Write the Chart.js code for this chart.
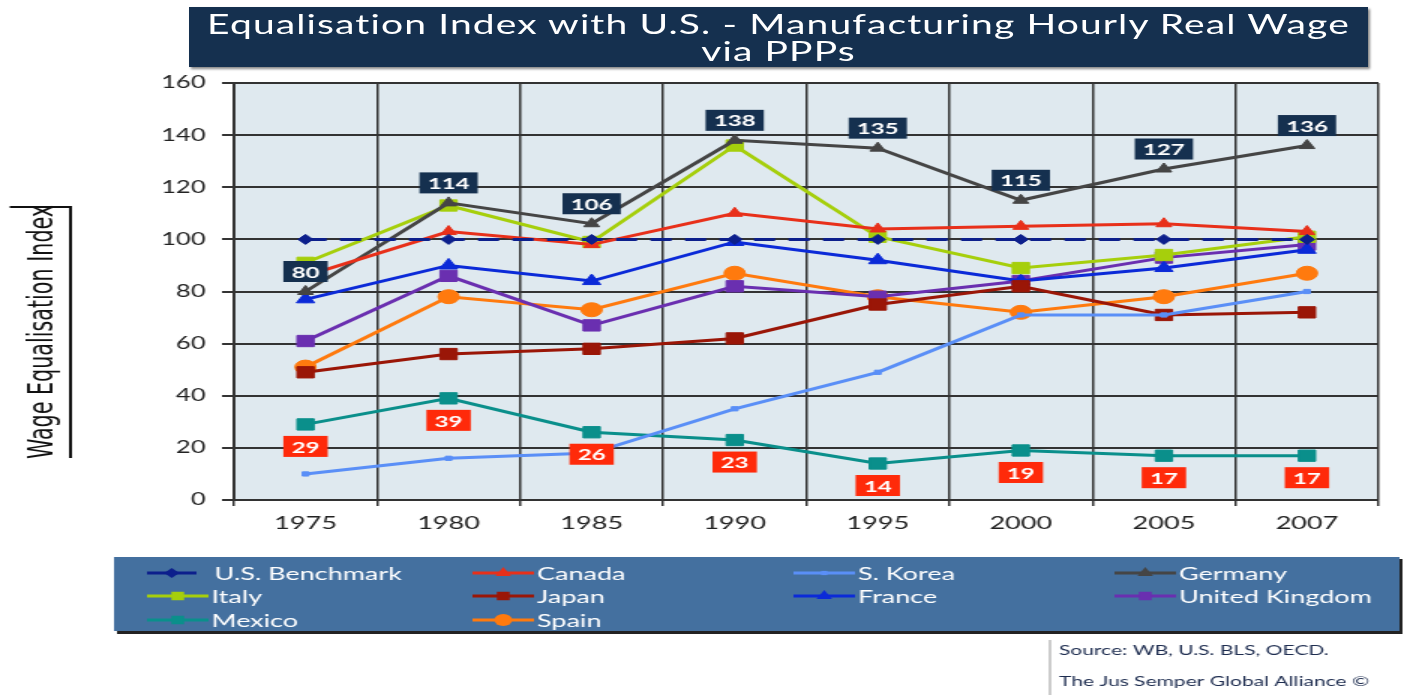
<!DOCTYPE html>
<html>
<head>
<meta charset="utf-8">
<script src="https://cdn.jsdelivr.net/npm/chart.js@4.4.0/dist/chart.umd.min.js"></script>
<style>
  body { margin: 0; background: #fff; overflow: hidden; }
  #wrap { position: absolute; left: 0; top: 0; width: 937px; height: 695px; transform: scaleX(1.5); transform-origin: 0 0; }
  #title { position: absolute; left: 126px; top: 7px; width: 786px; height: 60px; background: #15304f;
    color: #fff; font-family: Lato, sans-serif; font-size: 26px; line-height: 27px; text-align: center;
    letter-spacing: 0.75px; box-shadow: 1px 2px 2px #888; padding-top: 4px; box-sizing: border-box; }
</style>
</head>
<body>
<div id="wrap">
  <canvas id="wageChart" width="937" height="695"></canvas>
  <div id="title">Equalisation Index with U.S. - Manufacturing Hourly Real Wage<br>via PPPs</div>
</div>
<script>
// data
var years = ["1975", "1980", "1985", "1990", "1995", "2000", "2005", "2007"];
var usBenchmark = [100, 100, 100, 100, 100, 100, 100, 100];
var canada      = [86, 103, 98, 110, 104, 105, 106, 103];
var sKorea      = [10, 16, 18, 35, 49, 71, 71, 80];
var germany     = [80, 114, 106, 138, 135, 115, 127, 136];
var italy       = [91, 113, 99, 136, 101, 89, 94, 101];
var japan       = [49, 56, 58, 62, 75, 82, 71, 72];
var france      = [77, 90, 84, 99, 92, 84, 89, 96];
var uk          = [61, 86, 67, 82, 78, 84, 93, 98];
var mexico      = [29, 39, 26, 23, 14, 19, 17, 17];
var spain       = [51, 78, 73, 87, 78, 72, 78, 87];
var yTicks      = [0, 20, 40, 60, 80, 100, 120, 140, 160];

var FONT = "Lato, 'Open Sans', sans-serif";

function serie(label, data, color, style, radius, dash){
  return {
    label: label,
    data: data,
    borderColor: color,
    backgroundColor: color,
    pointBackgroundColor: color,
    pointBorderColor: color,
    pointStyle: style,
    pointRadius: radius,
    pointBorderWidth: 1,
    borderWidth: 3,
    borderDash: dash || [],
    tension: 0
  };
}

var datasets = [
  serie("U.S. Benchmark", usBenchmark, "#0c1f8c", "rectRot", 5, [14, 9]),
  serie("Canada", canada, "#e8301a", "triangle", 6),
  serie("S. Korea", sKorea, "#5a8ff7", "rect", 3),
  serie("Germany", germany, "#454545", "triangle", 6),
  serie("Italy", italy, "#a6cf0c", "rect", 8),
  serie("Japan", japan, "#9a1607", "rect", 8),
  serie("France", france, "#0b2ad8", "triangle", 7),
  serie("United Kingdom", uk, "#6a2fb0", "rect", 8),
  serie("Mexico", mexico, "#0a8f8b", "rect", 8),
  serie("Spain", spain, "#ff7a0e", "circle", 7)
];

// background, y title, value boxes, legend and source note
var decorations = {
  id: "decorations",
  beforeDraw: function(chart){
    var ctx = chart.ctx, a = chart.chartArea;
    ctx.save();
    ctx.fillStyle = "#fff";
    ctx.fillRect(0, 0, chart.width, chart.height);
    ctx.fillStyle = "#dfe9ef";
    ctx.fillRect(a.left, a.top, a.right - a.left, a.bottom - a.top);
    ctx.restore();
  },
  afterDatasetsDraw: function(chart){
    var ctx = chart.ctx;
    function box(idx, dy, fill){
      var meta = chart.getDatasetMeta(idx);
      var vals = chart.data.datasets[idx].data;
      ctx.font = "bold 16px " + FONT;
      ctx.textAlign = "center";
      ctx.textBaseline = "middle";
      meta.data.forEach(function(p, i){
        var txt = String(vals[i]);
        var w = ctx.measureText(txt).width + 11;
        var cy = p.y + dy;
        ctx.fillStyle = fill;
        ctx.fillRect(p.x - w / 2, cy - 10.5, w, 21);
        ctx.fillStyle = "#fff";
        ctx.fillText(txt, p.x, cy + 1);
      });
    }
    ctx.save();
    box(3, -20, "#15304f");
    box(8, 22, "#ff2a0a");
    ctx.restore();
  },
  afterDraw: function(chart){
    var ctx = chart.ctx;
    ctx.save();

    // y axis title with bracket
    ctx.strokeStyle = "#111";
    ctx.lineWidth = 2;
    ctx.beginPath();
    ctx.moveTo(6.5, 207);
    ctx.lineTo(47, 207);
    ctx.lineTo(47, 458);
    ctx.stroke();
    ctx.translate(29, 332);
    ctx.rotate(-Math.PI / 2);
    ctx.fillStyle = "#111";
    ctx.font = "23px 'Liberation Sans Narrow', 'DejaVu Sans Condensed', sans-serif";
    ctx.textAlign = "center";
    ctx.textBaseline = "middle";
    ctx.fillText("Wage Equalisation Index", 0, 0);
    ctx.setTransform(1, 0, 0, 1, 0, 0);

    // legend
    ctx.fillStyle = "#222";
    ctx.fillRect(78, 559, 857, 75);
    ctx.fillStyle = "#44709f";
    ctx.fillRect(76, 557, 857, 74);
    var colX = [98, 315, 529, 743];
    var rowY = [573, 596, 620];
    ctx.font = "18px " + FONT;
    ctx.textBaseline = "middle";
    ctx.textAlign = "left";
    chart.data.datasets.forEach(function(ds, i){
      var x = colX[i % 4], y = rowY[Math.floor(i / 4)];
      var len = i === 0 ? 33 : 41;
      ctx.strokeStyle = ds.borderColor;
      ctx.lineWidth = 3;
      ctx.setLineDash([]);
      ctx.beginPath();
      ctx.moveTo(x, y);
      ctx.lineTo(x + len, y);
      ctx.stroke();
      ctx.fillStyle = ds.pointBackgroundColor;
      Chart.helpers.drawPoint(ctx, {pointStyle: ds.pointStyle, radius: Math.min(ds.pointRadius, 6), rotation: 0, borderWidth: 0}, x + len / 2, y);
      ctx.fillStyle = "#fff";
      ctx.fillText(ds.label, x + (i === 0 ? 45 : 43), y + 1);
    });

    // source note
    ctx.fillStyle = "#fff";
    ctx.fillRect(700, 640, 237, 55);
    ctx.strokeStyle = "#bbb";
    ctx.lineWidth = 1.5;
    ctx.beginPath();
    ctx.moveTo(700, 640);
    ctx.lineTo(700, 695);
    ctx.stroke();
    ctx.fillStyle = "#1e2d50";
    ctx.font = "14px " + FONT;
    ctx.fillText("Source: WB, U.S. BLS, OECD.", 706, 650);
    ctx.fillText("The Jus Semper Global Alliance ©", 706, 681);
    ctx.restore();
  }
};

function drawChart(){
  var ctx = document.getElementById("wageChart").getContext("2d");
  new Chart(ctx, {
    type: "line",
    data: { labels: years, datasets: datasets },
    plugins: [decorations],
    options: {
      responsive: false,
      animation: false,
      devicePixelRatio: 1,
      layout: { padding: { left: 0, right: 18, top: 83, bottom: 150 } },
      plugins: { legend: { display: false }, tooltip: { enabled: false } },
      scales: {
        x: {
          offset: true,
          grid: { offset: true, color: "#333", lineWidth: 1.5, tickLength: 6 },
          border: { color: "#333", width: 1.5 },
          ticks: { color: "#222", font: { family: FONT, size: 18 }, padding: 6 },
          afterFit: function(s){ s.height = 45; }
        },
        y: {
          min: 0,
          max: 160,
          afterBuildTicks: function(s){ s.ticks = yTicks.map(function(v){ return {value: v}; }); },
          grid: { color: "#333", lineWidth: 2, tickLength: 8 },
          border: { color: "#333", width: 2 },
          ticks: { color: "#222", font: { family: FONT, size: 17 }, padding: 11 },
          afterFit: function(s){ s.width = 156; }
        }
      }
    }
  });
}

drawChart();
</script>
</body>
</html>
